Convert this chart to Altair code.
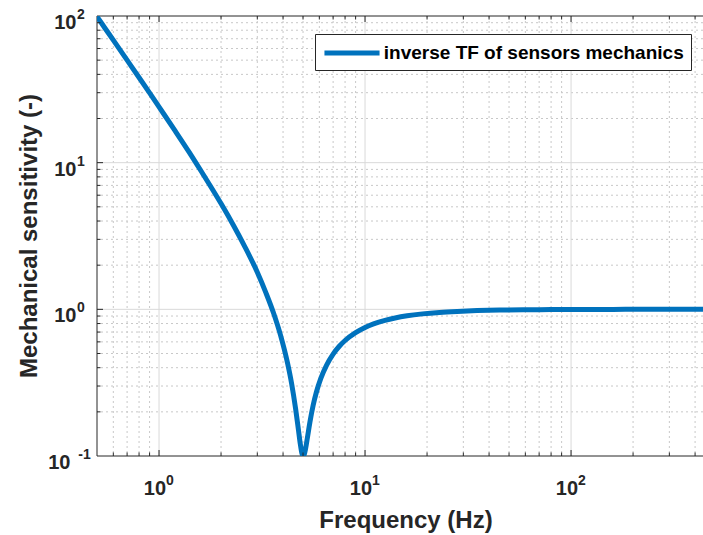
import altair as alt
import pandas as pd

# ---- data ----
freq = [0.5, 0.55, 0.6, 0.7, 0.8, 0.9, 1.0, 1.2, 1.4, 1.6, 1.8, 2.0, 2.3, 2.6, 3.0, 3.3, 3.6, 3.9,
        4.2, 4.4, 4.6, 4.75, 4.85, 4.95, 5.0, 5.05, 5.15, 5.25, 5.4, 5.6, 5.8, 6.1, 6.5, 7.0, 7.5,
        8.0, 9.0, 10, 11, 12.5, 14, 16, 19, 23, 28, 35, 45, 60, 80, 110, 160, 250, 437]
sens = [99.0, 81.6, 68.4, 50.0, 38.1, 29.9, 24.0, 16.4, 11.8, 8.77, 6.72, 5.26, 3.73, 2.70, 1.79,
        1.30, 0.94, 0.657, 0.434, 0.313, 0.211, 0.151, 0.121, 0.103, 0.100, 0.101, 0.113, 0.133,
        0.170, 0.222, 0.271, 0.338, 0.415, 0.495, 0.560, 0.613, 0.693, 0.752, 0.795, 0.841, 0.873,
        0.903, 0.931, 0.953, 0.968, 0.980, 0.988, 0.993, 0.996, 0.998, 0.999, 1.0, 1.0]
series_name = "inverse TF of sensors mechanics"
x_title = "Frequency (Hz)"
y_title = "Mechanical sensitivity (-)"

x_major = [1, 10, 100]
x_minor = [0.6, 0.7, 0.8, 0.9, 2, 3, 4, 5, 6, 7, 8, 9,
           20, 30, 40, 50, 60, 70, 80, 90, 200, 300, 400]
y_major = [1, 10]
y_minor = [0.2, 0.3, 0.4, 0.5, 0.6, 0.7, 0.8, 0.9, 2, 3, 4, 5, 6, 7, 8, 9,
           20, 30, 40, 50, 60, 70, 80, 90]
x_label_vals = [1, 10, 100]
x_label_exps = ["0", "1", "2"]
y_label_vals = [0.1, 1, 10, 100]
y_label_exps = ["-1", "0", "1", "2"]

W, H = 606, 440
FONT = "Liberation Sans"
DARK = "#262626"
BLUE = "#0072BD"

xs = alt.Scale(type="log", domain=[0.5, 437], nice=False)
ys = alt.Scale(type="log", domain=[0.1, 100], nice=False)

df_line = pd.DataFrame({"f": freq, "m": sens, "s": series_name})
df_xmaj = pd.DataFrame({"v": x_major})
df_xmin = pd.DataFrame({"v": x_minor})
df_ymaj = pd.DataFrame({"v": y_major})
df_ymin = pd.DataFrame({"v": y_minor})
df_xlab = pd.DataFrame({"v": x_label_vals, "e": x_label_exps, "t": "10"})
df_ylab = pd.DataFrame({"v": y_label_vals, "e": y_label_exps, "t": "10"})
df_one = pd.DataFrame({"a": [0]})
df_titles = pd.DataFrame({"xt": [x_title], "yt": [y_title]})

def xv(axis=None):
    return alt.X("v:Q", scale=xs, axis=axis)

def yv(axis=None):
    return alt.Y("v:Q", scale=ys, axis=axis)

# grids
grid_x_minor = alt.Chart(df_xmin).mark_rule(color="#c8c8c8", strokeWidth=1, strokeDash=[2, 3]).encode(x=xv())
grid_y_minor = alt.Chart(df_ymin).mark_rule(color="#c8c8c8", strokeWidth=1, strokeDash=[2, 3]).encode(y=yv())
grid_x_major = alt.Chart(df_xmaj).mark_rule(color="#d9d9d9", strokeWidth=1).encode(x=xv())
grid_y_major = alt.Chart(df_ymaj).mark_rule(color="#d9d9d9", strokeWidth=1).encode(y=yv())

# frame
frame_top = alt.Chart(df_one).mark_rule(color=DARK, strokeWidth=1).encode(
    x=alt.value(0), x2=alt.value(W), y=alt.value(0))
frame_bottom = alt.Chart(df_one).mark_rule(color=DARK, strokeWidth=1).encode(
    x=alt.value(0), x2=alt.value(W), y=alt.value(H))
frame_left = alt.Chart(df_one).mark_rule(color=DARK, strokeWidth=1).encode(
    y=alt.value(0), y2=alt.value(H), x=alt.value(0))

# main line with legend
line = alt.Chart(df_line).mark_line(strokeWidth=5, clip=True, interpolate="monotone").encode(
    x=alt.X("f:Q", scale=xs, axis=None),
    y=alt.Y("m:Q", scale=ys, axis=None),
    color=alt.Color("s:N", scale=alt.Scale(domain=[series_name], range=[BLUE]),
                    legend=alt.Legend(
                        orient="none", legendX=218, legendY=18, title=None,
                        symbolType="M-2.9,0H2.9", symbolSize=361, symbolStrokeWidth=5,
                        labelFont=FONT, labelFontSize=19, labelFontWeight="bold",
                        labelColor="#000000", labelLimit=700, padding=7,
                        strokeColor=DARK, fillColor="white",
                        symbolOffset=18, labelOffset=19.8)),
)

# ticks (inward)
def tick_layers():
    out = []
    for df, L in ((df_xmaj, 6), (df_xmin, 3.5)):
        out.append(alt.Chart(df).mark_rule(color=DARK, strokeWidth=1).encode(
            x=xv(), y=alt.value(H), y2=alt.value(H - L)))
        out.append(alt.Chart(df).mark_rule(color=DARK, strokeWidth=1).encode(
            x=xv(), y=alt.value(0), y2=alt.value(L)))
    for df, L in ((df_ymaj, 6), (df_ymin, 3.5)):
        out.append(alt.Chart(df).mark_rule(color=DARK, strokeWidth=1).encode(
            y=yv(), x=alt.value(0), x2=alt.value(L)))
    return out

# tick labels
x_ten = alt.Chart(df_xlab).mark_text(font=FONT, fontSize=20, fontWeight="bold", color=DARK,
                                     align="right", baseline="alphabetic", dx=7).encode(
    x=xv(), y=alt.value(H + 39), text="t:N")
x_exp = alt.Chart(df_xlab).mark_text(font=FONT, fontSize=14, fontWeight="bold", color=DARK,
                                     align="left", baseline="alphabetic", dx=7).encode(
    x=xv(), y=alt.value(H + 29), text="e:N")
y_ten = alt.Chart(df_ylab).transform_calculate(
    tx="datum.e == '-1' ? -26.5 : -20.5").mark_text(
    font=FONT, fontSize=20, fontWeight="bold", color=DARK,
    align="right", baseline="alphabetic", dy=13).encode(
    x=alt.X("tx:Q", scale=None), y=yv(), text="t:N")
y_exp = alt.Chart(df_ylab).transform_calculate(
    ex="datum.e == '-1' ? -18.7 : -20").mark_text(
    font=FONT, fontSize=14, fontWeight="bold", color=DARK,
    align="left", baseline="alphabetic", dy=3).encode(
    x=alt.X("ex:Q", scale=None), y=yv(), text="e:N")

# axis titles
x_title_mark = alt.Chart(df_titles).mark_text(
    font=FONT, fontSize=24, fontWeight="bold", color=DARK,
    align="center", baseline="alphabetic").encode(
    x=alt.value(W / 2 + 6), y=alt.value(H + 72), text="xt:N")
y_title_mark = alt.Chart(df_titles).mark_text(
    font=FONT, fontSize=24, fontWeight="bold", color=DARK,
    align="center", baseline="alphabetic", angle=270).encode(
    x=alt.value(-60), y=alt.value(H / 2), text="yt:N")

chart = alt.layer(
    grid_x_minor, grid_y_minor, grid_x_major, grid_y_major,
    frame_top, frame_bottom, frame_left,
    line,
    *tick_layers(),
    x_ten, x_exp, y_ten, y_exp,
    x_title_mark, y_title_mark,
).properties(
    width=W, height=H,
    padding={"left": 97, "top": 16, "right": 0, "bottom": 79},
    autosize=alt.AutoSizeParams(type="none"),
    background="white",
).configure_view(stroke=None)

chart.save("out.html", embed_options={"renderer": "svg", "actions": False})
